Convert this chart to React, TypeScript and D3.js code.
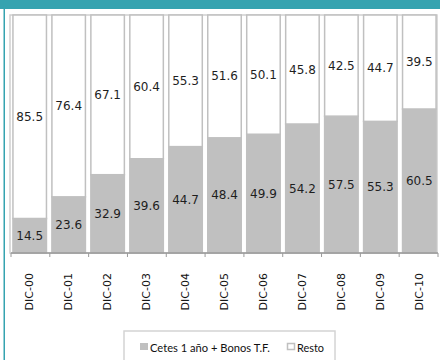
import React from "react";
import * as d3 from "d3";

const categories = ["DIC-00", "DIC-01", "DIC-02", "DIC-03", "DIC-04", "DIC-05", "DIC-06", "DIC-07", "DIC-08", "DIC-09", "DIC-10"];
const cetes = [14.5, 23.6, 32.9, 39.6, 44.7, 48.4, 49.9, 54.2, 57.5, 55.3, 60.5];
const resto = [85.5, 76.4, 67.1, 60.4, 55.3, 51.6, 50.1, 45.8, 42.5, 44.7, 39.5];
const seriesKeys = ["cetes", "resto"];
const seriesNames = ["Cetes 1 año + Bonos T.F.", "Resto"];

const W = 440;
const H = 360;
const TEAL = "#35a3b0";
const GRAY = "#c0c0c0";

export default function App() {
  const rows = categories.map((c, i) => ({ cat: c, cetes: cetes[i], resto: resto[i] }));
  const stack = d3.stack<any>().keys(seriesKeys);
  const layers = stack(rows);

  const x = d3.scaleBand<string>().domain(categories).range([11, 438]).paddingInner(0.14).paddingOuter(0.05);
  const y = d3.scaleLinear().domain([0, 100]).range([253, 15]);
  const step = (438 - 11) / categories.length;
  const fills = [GRAY, "#ffffff"];

  return (
    <div style={{ position: "fixed", left: 0, top: 0, width: W, height: H, background: "#fff" }}>
      <svg width={W} height={H} style={{ display: "block" }}>
        <rect x={0} y={0} width={W} height={9} fill={TEAL} />
        <rect x={3.5} y={0} width={1.5} height={H} fill={TEAL} />
        <rect x={10} y={15} width={427} height={238} fill="none" stroke="#cfcfcf" strokeWidth={1.5} />
        {layers.map((layer, li) => (
          <g key={li}>
            {layer.map((d: any, i: number) => {
              const cat = categories[i];
              const x0 = x(cat)!;
              const y0 = y(d[1]);
              const y1 = y(d[0]);
              return (
                <g key={cat}>
                  <rect x={x0} y={y0} width={x.bandwidth()} height={y1 - y0} fill={fills[li]} stroke={GRAY} strokeWidth={1.5} />
                  <text x={x0 + x.bandwidth() / 2} y={(y0 + y1) / 2} textAnchor="middle" dominantBaseline="central"
                    fontFamily="DejaVu Sans" fontSize={12} fill="#1e1e1e">
                    {(d[1] - d[0]).toFixed(1)}
                  </text>
                </g>
              );
            })}
          </g>
        ))}
        <line x1={11} x2={438} y1={253} y2={253} stroke="#9a9a9a" strokeWidth={1.5} />
        {d3.range(categories.length + 1).map((i) => (
          <line key={i} x1={11 + step * i} x2={11 + step * i} y1={253} y2={257} stroke="#9a9a9a" strokeWidth={1} />
        ))}
        {categories.map((c) => {
          const cx = x(c)! + x.bandwidth() / 2;
          return (
            <text key={c} transform={`translate(${cx},273) rotate(-90)`} textAnchor="end" dominantBaseline="central"
              fontFamily="DejaVu Sans" fontSize={11} fill="#111">
              {c}
            </text>
          );
        })}
        <rect x={124} y={331} width={211} height={40} fill="#fff" stroke="#d4d4d4" strokeWidth={1.5} />
        <rect x={140} y={343} width={8} height={7} fill={GRAY} />
        <text x={150} y={347} dominantBaseline="central" fontFamily="Lato" fontSize={11} fill="#111" textLength={120} lengthAdjust="spacingAndGlyphs">
          {seriesNames[0]}
        </text>
        <rect x={287.5} y={343.5} width={7} height={6} fill="#fff" stroke={GRAY} strokeWidth={1.5} />
        <text x={297} y={347} dominantBaseline="central" fontFamily="Lato" fontSize={11} fill="#111" textLength={27} lengthAdjust="spacingAndGlyphs">
          {seriesNames[1]}
        </text>
      </svg>
    </div>
  );
}
